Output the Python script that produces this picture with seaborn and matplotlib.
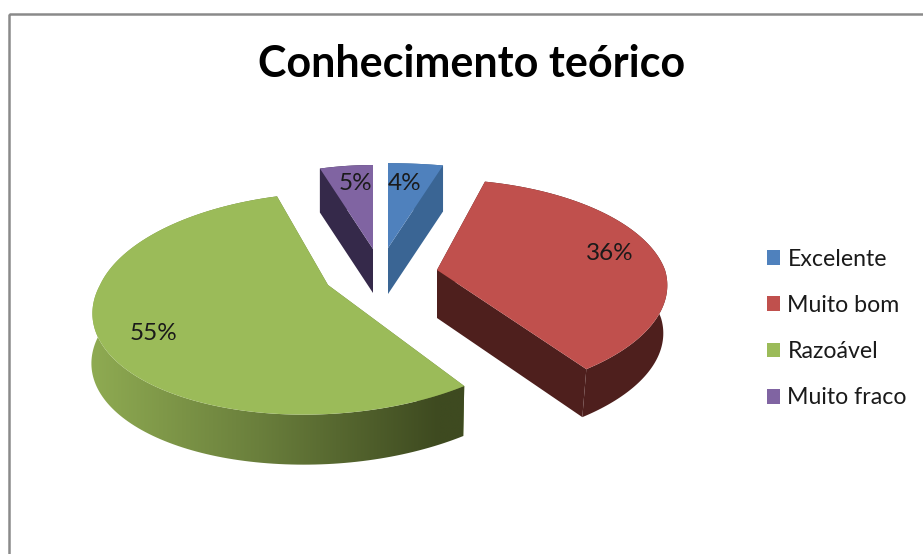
import numpy as np
import matplotlib
matplotlib.use("Agg")
import matplotlib.pyplot as plt
from matplotlib.patches import Polygon, Patch, Rectangle
from matplotlib.colors import LinearSegmentedColormap
import seaborn as sns

# data
categories = ["Excelente", "Muito bom", "Razoável", "Muito fraco"]
values = [4, 36, 55, 5]
title = "Conhecimento teórico"

# style
top_colors = ["#4f81bd", "#c0504d", "#9bbb59", "#8064a2"]
wall_colors = ["#3a6594", "#4e1f1d", "#6a7f3c", "#35294a"]
green_wall_gradient = [(0, "#8fab52"), (0.45, "#6a7f3c"), (0.93, "#3e4a20"), (1, "#3e4a20")]

# layout (pixels): apex x, apex y, rx, ry, skew back/front, depth for each slice
apex_x = [388, 437, 328, 373]
apex_y = [248, 270, 285, 249]
radius_x = [257, 228, 228, 199]
radius_y = [99, 106, 108, 98]
skew_back = [0, -1, 12, 0]
skew_front = [0, 6, 20, 0]
depth = [46, 48, 50, 44]
depth_dx = [0, -4, -1, 0]
persp = 0.167
label_pos = [(405, 183), (610, 254), (154, 333), (355, 183)]
W, H = 923, 554

sns.set_theme(style="white")
plt.rcParams["font.family"] = ["Lato", "DejaVu Sans"]

fig = plt.figure(figsize=(W / 100, H / 100), dpi=100, facecolor="white")
ax = fig.add_axes([0, 0, 1, 1])

wedges, _, autotexts = ax.pie(
    values, colors=sns.color_palette(top_colors), startangle=90, counterclock=False,
    autopct="%.0f%%", frame=True,
)


def project(theta, i):
    X, Y = np.cos(np.radians(theta)), np.sin(np.radians(theta))
    s = 1 / (1 + persp * Y)
    sk = np.where(Y > 0, skew_back[i], skew_front[i])
    return (apex_x[i] + (radius_x[i] * X + sk * Y) * s,
            apex_y[i] - radius_y[i] * Y * s)


def lower(x, y, i):
    # the bottom rim of a slice: shifted down, and slightly inwards away from the apex
    shift = depth_dx[i] * np.clip(np.abs(x - apex_x[i]) / 100, 0, 1)
    return x + shift, y + depth[i]


for i, w in enumerate(wedges):
    w.set_visible(False)
    th = np.linspace(w.theta1, w.theta2, 160)
    px, py = project(th, i)
    a = (float(apex_x[i]), float(apex_y[i]))
    a_low = lower(np.array(a[0]), np.array(a[1]), i)
    # cut faces
    for ex, ey in [(px[0], py[0]), (px[-1], py[-1])]:
        ex_low, ey_low = lower(np.array(ex), np.array(ey), i)
        ax.add_patch(Polygon([a, (ex, ey), (ex_low, ey_low), a_low], closed=True,
                             fc=wall_colors[i], ec="none", zorder=2))
    # outer wall
    lx, ly = lower(px, py, i)
    wall = np.vstack([np.c_[px, py], np.c_[lx[::-1], ly[::-1]]])
    if categories[i] == "Razoável":
        clip = Polygon(wall, closed=True, fc="none", ec="none", transform=ax.transData)
        ax.add_patch(clip)
        cmap = LinearSegmentedColormap.from_list("wall", green_wall_gradient)
        im = ax.imshow(np.linspace(0, 1, 256)[None, :], cmap=cmap, aspect="auto",
                       extent=(px.min() - 2, px.max() + 1, ly.max() + 5, py.min() - 5),
                       zorder=3)
        im.set_clip_path(clip)
    else:
        ax.add_patch(Polygon(wall, closed=True, fc=wall_colors[i], ec="none", zorder=3))
    # top face
    ax.add_patch(Polygon(np.vstack([a, np.c_[px, py]]), closed=True,
                         fc=top_colors[i], ec="none", zorder=4))

ax.set_aspect("auto")
ax.set_xlim(0, W)
ax.set_ylim(H, 0)
ax.set_axis_off()

for t, pos in zip(autotexts, label_pos):
    t.set_position(pos)
    t.set_ha("center")
    t.set_va("center")
    t.set_fontsize(17.5)
    t.set_color("#1a1a1a")
    t.set_zorder(6)

ax.text(472, 64, title, ha="center", va="center", fontsize=31, fontweight="bold",
        color="black", zorder=6)

# chart frame
ax.add_patch(Rectangle((8.7, 14.2), W + 20, H + 20, fc="none", ec="#8a8a8a", lw=1.8, zorder=1))

handles = [Patch(fc=c, ec="none") for c in top_colors]
leg = ax.legend(handles, categories, loc="upper left", bbox_to_anchor=(748 / W, 1 - 230 / H),
                frameon=False, fontsize=16.7, labelspacing=1.09, handlelength=0.6,
                handleheight=0.6, handletextpad=0.3, borderpad=0.3, labelcolor="#1a1a1a")
leg.set_zorder(6)

fig.savefig("out.png", dpi=100)
